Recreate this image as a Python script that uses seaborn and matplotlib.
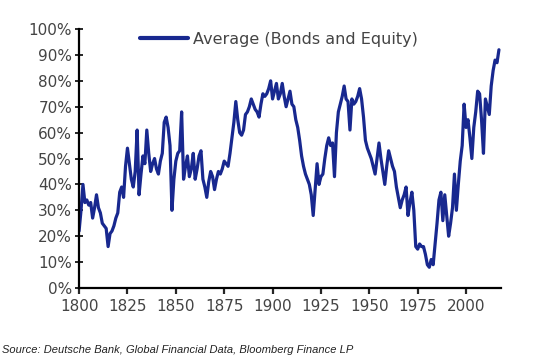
import matplotlib
matplotlib.use("Agg")
import matplotlib.pyplot as plt
import seaborn as sns
import numpy as np
import pandas as pd

# yearly readings, 1800..2017 (percent)
years = list(range(1800, 2018))
values = [
    22, 30, 40, 33, 34, 32, 33, 27, 31, 36,      # 1800s
    31, 29, 25, 24, 23, 16, 21, 22, 24, 27,      # 1810s
    29, 37, 39, 35, 47, 54, 48, 42, 39, 45,      # 1820s
    61, 36, 44, 51, 48, 61, 52, 45, 48, 50,      # 1830s
    46, 44, 49, 52, 64, 66, 62, 55, 30, 42,      # 1840s
    49, 52, 53, 68, 42, 47, 51, 43, 46, 52,      # 1850s
    42, 46, 51, 53, 42, 39, 35, 41, 45, 43,      # 1860s
    38, 42, 45, 44, 46, 49, 48, 47, 52, 58,      # 1870s
    64, 72, 65, 60, 59, 61, 67, 68, 70, 73,      # 1880s
    71, 69, 68, 66, 71, 75, 74, 75, 77, 80,      # 1890s
    73, 76, 79, 73, 75, 79, 74, 70, 73, 76,      # 1900s
    71, 70, 65, 62, 57, 51, 47, 44, 42, 40,      # 1910s
    36, 28, 38, 48, 40, 43, 44, 50, 55, 58,      # 1920s
    55, 56, 43, 60, 68, 71, 74, 78, 73, 72,      # 1930s
    61, 73, 71, 72, 74, 77, 73, 66, 57, 54,      # 1940s
    52, 50, 47, 44, 50, 56, 50, 45, 40, 47,      # 1950s
    53, 50, 47, 45, 39, 35, 31, 34, 36, 39,      # 1960s
    28, 33, 37, 30, 16, 15, 17, 16, 16, 13,      # 1970s
    9, 8, 11, 9, 17, 25, 34, 37, 26, 36,         # 1980s
    28, 20, 25, 31, 44, 30, 40, 49, 55, 71,      # 1990s
    62, 65, 58, 50, 62, 68, 76, 75, 65, 52,      # 2000s
    73, 70, 67, 78, 84, 88, 87, 92,              # 2010s
]
series_name = "Average (Bonds and Equity)"
x_ticks = [1800, 1825, 1850, 1875, 1900, 1925, 1950, 1975, 2000]
y_ticks = [0, 10, 20, 30, 40, 50, 60, 70, 80, 90, 100]
source_text = "Source: Deutsche Bank, Global Financial Data, Bloomberg Finance LP"

df = pd.DataFrame({"year": years, "value": values, "series": series_name})

sns.set_style("ticks")
plt.rcParams['font.family'] = ['DejaVu Sans']

line_color = "#18288f"
fig = plt.figure(figsize=(5.38, 3.63), dpi=100)
ax = fig.add_axes([0.147, 0.2066, 0.784, 0.7134])

sns.lineplot(data=df, x="year", y="value", hue="series", palette=[line_color],
             linewidth=2.3, ax=ax)

ax.set_xlim(1800, 2018)
ax.set_ylim(0, 100)
ax.set_xticks(x_ticks)
ax.set_yticks(y_ticks)
ax.set_yticklabels([f"{v}%" for v in y_ticks])
ax.set(xlabel=None, ylabel=None)

for s in ["top", "right"]:
    ax.spines[s].set_visible(False)
for s in ["left", "bottom"]:
    ax.spines[s].set_linewidth(1.6)
    ax.spines[s].set_color("black")

ax.tick_params(axis="y", direction="inout", length=6, width=1.4,
               labelsize=11, labelcolor="#444444", pad=2)
ax.tick_params(axis="x", direction="out", length=4, width=1.6,
               labelsize=11, labelcolor="#444444", pad=4)

leg = ax.legend(loc="upper left", bbox_to_anchor=(0.11, 1.045), frameon=False,
                fontsize=11.5, handlelength=3.0, handletextpad=0.3)
for t in leg.get_texts():
    t.set_color("#444444")
for h in leg.get_lines():
    h.set_linewidth(3)

fig.text(0.004, 0.027, source_text, fontsize=8, style="italic",
         family="Liberation Sans", color="#222222")

fig.savefig("out.png", dpi=100)
